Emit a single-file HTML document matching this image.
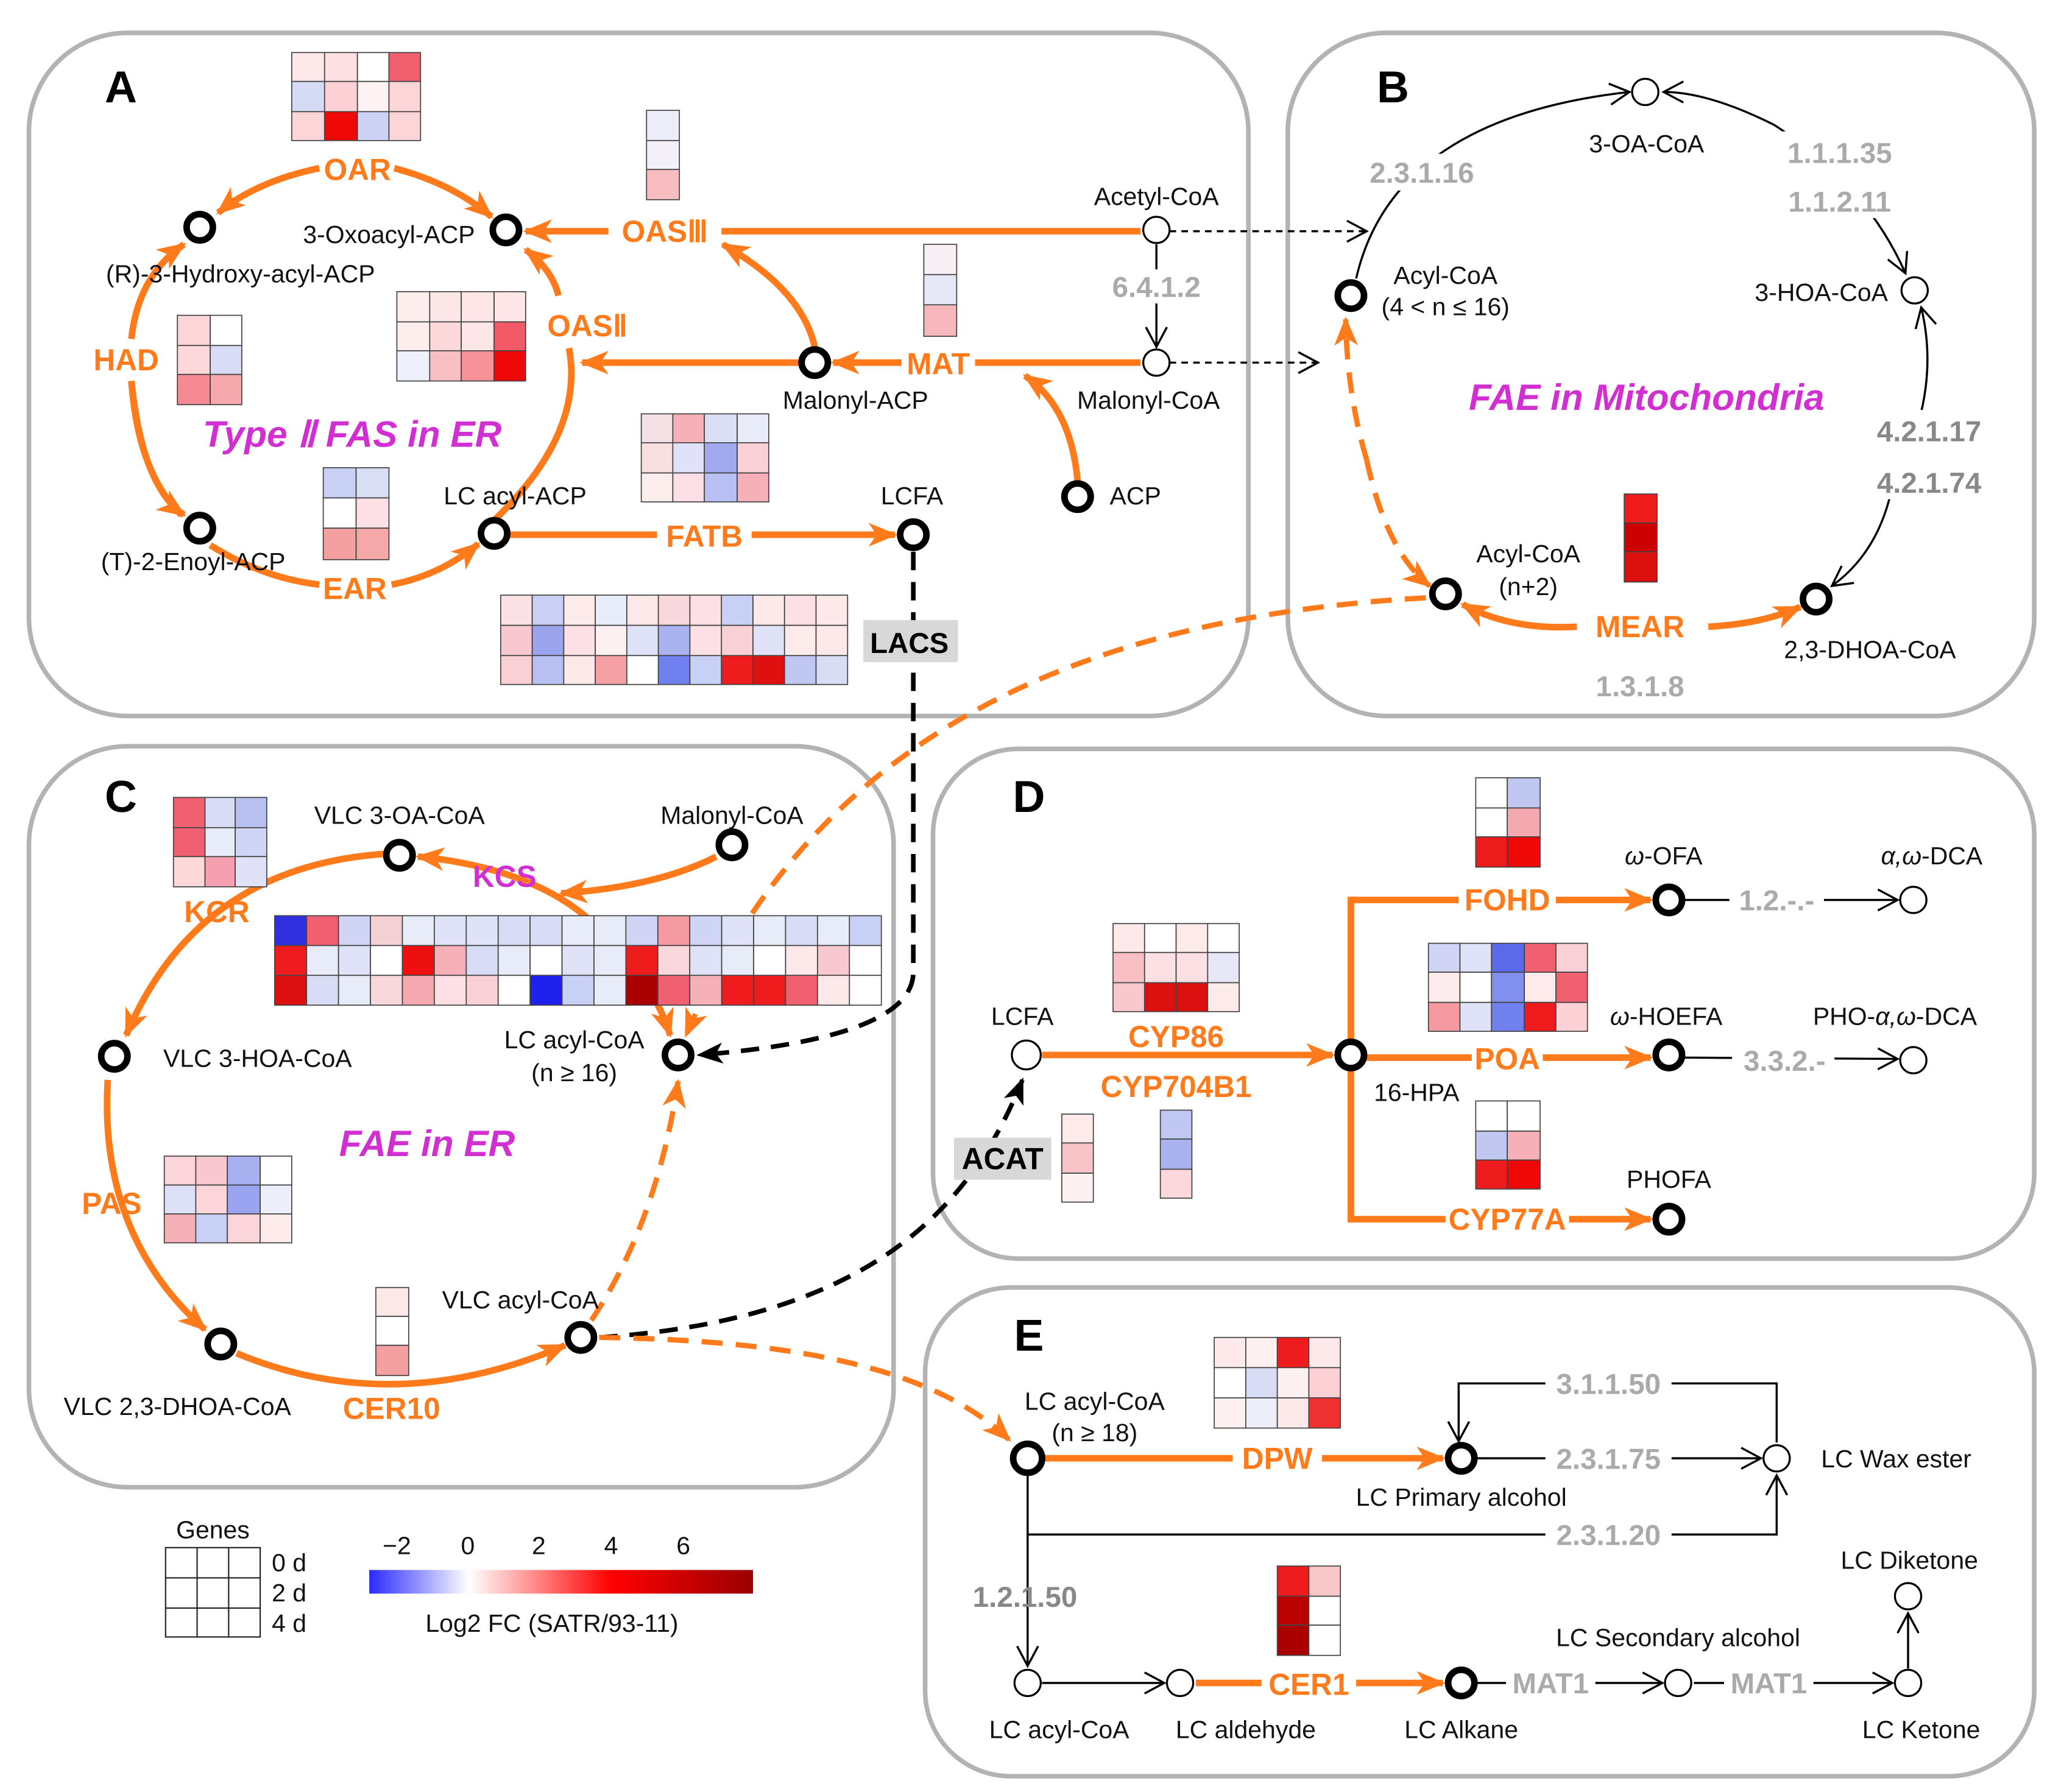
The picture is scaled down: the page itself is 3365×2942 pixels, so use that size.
<!DOCTYPE html>
<html><head><meta charset="utf-8"><style>
html,body{margin:0;padding:0;background:#fff}
svg{display:block}
text{font-family:"Liberation Sans",sans-serif}
.l{font-size:19px;fill:#111;text-anchor:middle}
.o{font-size:23px;fill:#ff7a1a;font-weight:bold;text-anchor:middle}
.g{font-size:22px;fill:#aaa;font-weight:bold;text-anchor:middle}
.g2{font-size:22px;fill:#888;font-weight:bold;text-anchor:middle}
.m{font-size:28px;fill:#d22fd2;font-weight:bold;font-style:italic;text-anchor:middle}
.p{font-size:34px;font-weight:bold;fill:#000;text-anchor:middle}
.ob{stroke:#ff7a1a;stroke-width:5;fill:none}
.od{stroke:#ff7a1a;stroke-width:4;fill:none;stroke-dasharray:16 10}
.kd{stroke:#000;stroke-width:3.5;fill:none;stroke-dasharray:14 9}
.tk{stroke:#000;stroke-width:1.6;fill:none}
.n{fill:#fff;stroke:#000;stroke-width:5}
.e{fill:#fff;stroke:#000;stroke-width:1.5}
.hm rect{stroke:#444;stroke-width:0.8}
</style></head><body>
<svg width="3365" height="2942" viewBox="0 0 1560 1364" preserveAspectRatio="none" xmlns="http://www.w3.org/2000/svg">
<defs>
<marker id="ao" markerUnits="userSpaceOnUse" markerWidth="24" markerHeight="20" refX="20" refY="10" orient="auto"><path d="M0,1 L22,10 L0,19 L6,10z" fill="#ff7a1a"/></marker>
<marker id="ak" markerUnits="userSpaceOnUse" markerWidth="22" markerHeight="18" refX="18" refY="9" orient="auto"><path d="M0,1 L20,9 L0,17 L5,9z" fill="#000"/></marker>
<marker id="at" markerUnits="userSpaceOnUse" markerWidth="20" markerHeight="20" refX="17" refY="10" orient="auto"><path d="M2,2 L17,10 L2,18" fill="none" stroke="#000" stroke-width="1.6"/></marker>
<linearGradient id="cb" x1="0" x2="1"><stop offset="0" stop-color="#2a2aff"/><stop offset="0.26" stop-color="#fff"/><stop offset="0.63" stop-color="#f00"/><stop offset="1" stop-color="#990000"/></linearGradient>
</defs>
<g fill="none" stroke="#b3b3b3" stroke-width="3.5">
<rect x="22" y="25" width="928" height="520" rx="75"/>
<rect x="980" y="25" width="568" height="520" rx="75"/>
<rect x="22" y="568" width="658" height="564" rx="75"/>
<rect x="710" y="570" width="838" height="388" rx="65"/>
<rect x="704" y="980" width="844" height="372" rx="65"/>
</g>
<text class="p" x="92" y="78">A</text><text class="p" x="1060" y="78">B</text><text class="p" x="92" y="618">C</text><text class="p" x="783" y="618">D</text><text class="p" x="783" y="1028">E</text>

<!-- Panel A connectors -->
<path class="ob" d="M243,128 Q195,138 166,162" marker-end="url(#ao)"/>
<path class="ob" d="M300,128 Q345,140 374,165" marker-end="url(#ao)"/>
<path class="ob" d="M100,258 Q105,210 140,186" marker-end="url(#ao)"/>
<path class="ob" d="M100,290 Q105,360 138,392"/>
<path class="ob" d="M100,290 Q108,370 140,392" marker-end="url(#ao)"/>
<path class="ob" d="M160,415 Q200,440 243,445"/>
<path class="ob" d="M298,445 Q335,438 364,414" marker-end="url(#ao)"/>
<path class="ob" d="M376,396 Q445,330 433,265"/>
<path class="ob" d="M425,225 Q420,205 400,190" marker-end="url(#ao)"/>
<path class="ob" d="M868,176 L400,176" marker-end="url(#ao)"/>
<path class="ob" d="M868,276 L634,276" marker-end="url(#ao)"/>
<path class="ob" d="M608,276 L443,276" marker-end="url(#ao)"/>
<path class="ob" d="M620,264 Q610,220 550,186" marker-end="url(#ao)"/>
<path class="ob" d="M820,366 Q815,310 780,286" marker-end="url(#ao)"/>
<path class="ob" d="M388,407 L681,407" marker-end="url(#ao)"/>
<rect x="463" y="162" width="86" height="28" fill="#fff"/>
<text class="o" x="506" y="184">OASⅢ</text>
<rect x="686" y="262" width="56" height="28" fill="#fff"/>
<text class="o" x="714" y="285">MAT</text>
<rect x="500" y="395" width="72" height="26" fill="#fff"/>
<text class="o" x="536" y="416">FATB</text>
<text class="o" x="272" y="137">OAR</text>
<text class="o" x="96" y="282">HAD</text>
<text class="o" x="270" y="456">EAR</text>
<text class="o" x="447" y="256">OASⅡ</text>
<text class="m" x="268" y="340">Type Ⅱ FAS in ER</text>
<line class="tk" x1="890" y1="176" x2="1040" y2="176" stroke-dasharray="5 4" marker-end="url(#at)"/>
<line class="tk" x1="890" y1="276" x2="1003" y2="276" stroke-dasharray="5 4" marker-end="url(#at)"/>
<line class="tk" x1="880" y1="186" x2="880" y2="264" marker-end="url(#at)"/>
<rect x="840" y="205" width="80" height="26" fill="#fff"/>
<text class="g" x="880" y="226">6.4.1.2</text>
<path class="kd" d="M695,420 L695,740 Q695,790 532,803" marker-end="url(#ak)"/>
<rect x="657" y="472" width="72" height="32" fill="#d8d8d8"/>
<text x="692" y="497" style="font-size:22px;font-weight:bold;text-anchor:middle">LACS</text>
<circle class="n" cx="152" cy="173" r="10"/><circle class="n" cx="385" cy="175" r="10"/>
<circle class="n" cx="152" cy="402" r="10"/><circle class="n" cx="376" cy="406" r="10"/>
<circle class="n" cx="620" cy="276" r="10"/><circle class="n" cx="820" cy="378" r="10"/>
<circle class="n" cx="695" cy="407" r="10"/>
<circle class="e" cx="880" cy="175" r="10"/><circle class="e" cx="880" cy="276" r="10"/>
<text class="l" x="296" y="185">3-Oxoacyl-ACP</text>
<text class="l" x="183" y="215">(R)-3-Hydroxy-acyl-ACP</text>
<text class="l" x="147" y="434">(T)-2-Enoyl-ACP</text>
<text class="l" x="392" y="384">LC acyl-ACP</text>
<text class="l" x="694" y="384">LCFA</text>
<text class="l" x="880" y="156">Acetyl-CoA</text>
<text class="l" x="651" y="311">Malonyl-ACP</text>
<text class="l" x="874" y="311">Malonyl-CoA</text>
<text class="l" x="864" y="384">ACP</text>

<!-- Panel A heatmaps -->
<g class="hm">
<rect x="222" y="40" width="25" height="22" fill="#fde8ea"/><rect x="247" y="40" width="25" height="22" fill="#fce0e3"/><rect x="272" y="40" width="24" height="22" fill="#fff"/><rect x="296" y="40" width="24" height="22" fill="#f26070"/>
<rect x="222" y="62" width="25" height="23" fill="#d5dbf5"/><rect x="247" y="62" width="25" height="23" fill="#fcd0d5"/><rect x="272" y="62" width="24" height="23" fill="#fff2f2"/><rect x="296" y="62" width="24" height="23" fill="#fcd5d8"/>
<rect x="222" y="85" width="25" height="22" fill="#fcd5d8"/><rect x="247" y="85" width="25" height="22" fill="#ee0808"/><rect x="272" y="85" width="24" height="22" fill="#cdd3f5"/><rect x="296" y="85" width="24" height="22" fill="#fcd5d8"/>
<rect x="492" y="84" width="25" height="23" fill="#ecedf9"/><rect x="492" y="107" width="25" height="22" fill="#f4f0f8"/><rect x="492" y="129" width="25" height="23" fill="#f7bcc0"/>
<rect x="135" y="240" width="25" height="23" fill="#fcd5d8"/><rect x="160" y="240" width="24" height="23" fill="#fff"/>
<rect x="135" y="263" width="25" height="22" fill="#fcd8da"/><rect x="160" y="263" width="24" height="22" fill="#d8dcf7"/>
<rect x="135" y="285" width="25" height="23" fill="#f58a92"/><rect x="160" y="285" width="24" height="23" fill="#f7a8ac"/>
<rect x="302" y="222" width="25" height="23" fill="#fdeeee"/><rect x="327" y="222" width="24" height="23" fill="#fde6e8"/><rect x="351" y="222" width="25" height="23" fill="#fde6e8"/><rect x="376" y="222" width="24" height="23" fill="#fde6e8"/>
<rect x="302" y="245" width="25" height="22" fill="#fdeeee"/><rect x="327" y="245" width="24" height="22" fill="#fcd8da"/><rect x="351" y="245" width="25" height="22" fill="#fde6e8"/><rect x="376" y="245" width="24" height="22" fill="#f35a68"/>
<rect x="302" y="267" width="25" height="23" fill="#eef0fb"/><rect x="327" y="267" width="24" height="23" fill="#f9c0c4"/><rect x="351" y="267" width="25" height="23" fill="#f69298"/><rect x="376" y="267" width="24" height="23" fill="#ee0808"/>
<rect x="703" y="186" width="25" height="23" fill="#f8f0f5"/><rect x="703" y="209" width="25" height="23" fill="#e6e8f7"/><rect x="703" y="232" width="25" height="24" fill="#f6b8bc"/>
<rect x="488" y="315" width="24" height="22" fill="#f5e0e5"/><rect x="512" y="315" width="24" height="22" fill="#f5b0b8"/><rect x="536" y="315" width="25" height="22" fill="#dadff5"/><rect x="561" y="315" width="24" height="22" fill="#e8ebf8"/>
<rect x="488" y="337" width="24" height="23" fill="#f8dfe0"/><rect x="512" y="337" width="24" height="23" fill="#e0e3f7"/><rect x="536" y="337" width="25" height="23" fill="#a0a8ee"/><rect x="561" y="337" width="24" height="23" fill="#f8d0d5"/>
<rect x="488" y="360" width="24" height="22" fill="#fdeeee"/><rect x="512" y="360" width="24" height="22" fill="#fce0e5"/><rect x="536" y="360" width="25" height="22" fill="#b8bff2"/><rect x="561" y="360" width="24" height="22" fill="#f5b0b8"/>
<rect x="246" y="356" width="25" height="23" fill="#c8d0f5"/><rect x="271" y="356" width="25" height="23" fill="#d8dff5"/>
<rect x="246" y="379" width="25" height="23" fill="#fff"/><rect x="271" y="379" width="25" height="23" fill="#fce0e5"/>
<rect x="246" y="402" width="25" height="24" fill="#f5a0a0"/><rect x="271" y="402" width="25" height="24" fill="#f5a8a8"/>
</g>
<g class="hm">
<rect x="381" y="453" width="24" height="23" fill="#fbe0e5"/><rect x="405" y="453" width="24" height="23" fill="#c8d0f5"/><rect x="429" y="453" width="24" height="23" fill="#fdeaea"/><rect x="453" y="453" width="24" height="23" fill="#e8ebf8"/><rect x="477" y="453" width="24" height="23" fill="#fde8ea"/><rect x="501" y="453" width="24" height="23" fill="#f8d8dc"/><rect x="525" y="453" width="24" height="23" fill="#fce0e5"/><rect x="549" y="453" width="24" height="23" fill="#c8d0f5"/><rect x="573" y="453" width="24" height="23" fill="#fde8ea"/><rect x="597" y="453" width="24" height="23" fill="#fce0e5"/><rect x="621" y="453" width="24" height="23" fill="#fde8ea"/>
<rect x="381" y="476" width="24" height="23" fill="#f8c8d0"/><rect x="405" y="476" width="24" height="23" fill="#9aa5ee"/><rect x="429" y="476" width="24" height="23" fill="#fde0e5"/><rect x="453" y="476" width="24" height="23" fill="#fdf0f0"/><rect x="477" y="476" width="24" height="23" fill="#e0e3f7"/><rect x="501" y="476" width="24" height="23" fill="#aab3f0"/><rect x="525" y="476" width="24" height="23" fill="#fce0e5"/><rect x="549" y="476" width="24" height="23" fill="#f8d0d5"/><rect x="573" y="476" width="24" height="23" fill="#e0e3f7"/><rect x="597" y="476" width="24" height="23" fill="#fdeaea"/><rect x="621" y="476" width="24" height="23" fill="#fde8ea"/>
<rect x="381" y="499" width="24" height="22" fill="#fbd0d5"/><rect x="405" y="499" width="24" height="22" fill="#b8c0f2"/><rect x="429" y="499" width="24" height="22" fill="#fde8ea"/><rect x="453" y="499" width="24" height="22" fill="#f5a0a5"/><rect x="477" y="499" width="24" height="22" fill="#fff"/><rect x="501" y="499" width="24" height="22" fill="#7080ee"/><rect x="525" y="499" width="24" height="22" fill="#c8d0f5"/><rect x="549" y="499" width="24" height="22" fill="#ee1c1c"/><rect x="573" y="499" width="24" height="22" fill="#e01010"/><rect x="597" y="499" width="24" height="22" fill="#c0c8f2"/><rect x="621" y="499" width="24" height="22" fill="#d8dcf5"/>
</g>

<!-- Panel B -->
<path class="tk" d="M1032,212 Q1060,90 1240,70" marker-end="url(#at)"/>
<path class="tk" d="M1350,95 Q1300,70 1266,70" marker-end="url(#at)"/>
<path class="tk" d="M1350,95 Q1420,140 1450,208" marker-end="url(#at)"/>
<path class="tk" d="M1440,370 Q1430,420 1394,446" marker-end="url(#at)"/>
<path class="tk" d="M1440,370 Q1478,300 1462,234" marker-end="url(#at)"/>
<path class="ob" d="M1200,477 Q1150,480 1113,460" marker-end="url(#ao)"/>
<path class="ob" d="M1300,477 Q1340,475 1370,462" marker-end="url(#ao)"/>
<path class="od" d="M1040,350 Q1025,300 1024,243" marker-end="url(#ao)"/>
<path class="od" d="M1040,350 Q1055,420 1088,446" marker-end="url(#ao)"/>
<rect x="1030" y="117" width="104" height="28" fill="#fff"/>
<text class="g" x="1082" y="139">2.3.1.16</text>
<rect x="1350" y="100" width="100" height="66" fill="#fff"/>
<text class="g" x="1400" y="124">1.1.1.35</text><text class="g" x="1400" y="161">1.1.2.11</text>
<rect x="1418" y="312" width="100" height="68" fill="#fff"/>
<text class="g2" x="1468" y="336">4.2.1.17</text><text class="g2" x="1468" y="375">4.2.1.74</text>
<text class="g" x="1248" y="530">1.3.1.8</text>
<text class="o" x="1248" y="485">MEAR</text>
<text class="m" x="1253" y="312">FAE in Mitochondria</text>
<g class="hm"><rect x="1236" y="376" width="25" height="22" fill="#ee1c1c"/><rect x="1236" y="398" width="25" height="22" fill="#cc0000"/><rect x="1236" y="420" width="25" height="23" fill="#dd1010"/></g>
<circle class="e" cx="1252" cy="70" r="10"/><circle class="e" cx="1457" cy="221" r="10"/>
<circle class="n" cx="1028" cy="225" r="10"/><circle class="n" cx="1382" cy="456" r="10"/><circle class="n" cx="1100" cy="452" r="10"/>
<text class="l" x="1253" y="116">3-OA-CoA</text>
<text class="l" x="1100" y="216">Acyl-CoA</text><text class="l" x="1100" y="240">(4 &lt; n ≤ 16)</text>
<text class="l" x="1386" y="229">3-HOA-CoA</text>
<text class="l" x="1423" y="501">2,3-DHOA-CoA</text>
<text class="l" x="1163" y="428">Acyl-CoA</text><text class="l" x="1163" y="453">(n+2)</text>
<path class="od" d="M1085,455 C820,470 620,560 522,788" marker-end="url(#ao)"/>

<!-- Panel C -->
<path class="ob" d="M545,652 Q500,675 427,680" marker-end="url(#ao)"/>
<path class="ob" d="M445,697 Q400,660 318,652" marker-end="url(#ao)"/>
<path class="ob" d="M445,697 Q495,740 510,788" marker-end="url(#ao)"/>
<path class="ob" d="M292,650 Q150,660 96,788" marker-end="url(#ao)"/>
<path class="ob" d="M82,822 Q75,940 156,1012" marker-end="url(#ao)"/>
<path class="ob" d="M180,1030 Q300,1080 430,1024" marker-end="url(#ao)"/>
<path class="od" d="M450,1005 Q500,930 516,823" marker-end="url(#ao)"/>
<text class="o" x="165" y="702">KCR</text>
<text class="o" x="85" y="924">PAS</text>
<rect x="255" y="1058" width="86" height="28" fill="#fff"/>
<text class="o" x="298" y="1080">CER10</text>
<text x="384" y="675" style="font-size:23px;font-weight:bold;fill:#d22fd2;text-anchor:middle">KCS</text>
<text class="m" x="325" y="880">FAE in ER</text>
<g class="hm">
<rect x="132" y="607" width="24" height="23" fill="#f06070"/><rect x="156" y="607" width="23" height="23" fill="#d8dcf5"/><rect x="179" y="607" width="24" height="23" fill="#b8c0f2"/>
<rect x="132" y="630" width="24" height="22" fill="#f06070"/><rect x="156" y="630" width="23" height="22" fill="#e8ebf8"/><rect x="179" y="630" width="24" height="22" fill="#d0d5f5"/>
<rect x="132" y="652" width="24" height="23" fill="#fcd8d8"/><rect x="156" y="652" width="23" height="23" fill="#f5a0b0"/><rect x="179" y="652" width="24" height="23" fill="#e0e3f7"/>
<rect x="125" y="880" width="24" height="22" fill="#fcd5da"/><rect x="149" y="880" width="24" height="22" fill="#f8c8d0"/><rect x="173" y="880" width="25" height="22" fill="#a8b0f0"/><rect x="198" y="880" width="24" height="22" fill="#fff"/>
<rect x="125" y="902" width="24" height="22" fill="#dde0f7"/><rect x="149" y="902" width="24" height="22" fill="#fcd5da"/><rect x="173" y="902" width="25" height="22" fill="#9aa3ee"/><rect x="198" y="902" width="24" height="22" fill="#eceef9"/>
<rect x="125" y="924" width="24" height="22" fill="#f6b0b8"/><rect x="149" y="924" width="24" height="22" fill="#c8d0f5"/><rect x="173" y="924" width="25" height="22" fill="#fcd5da"/><rect x="198" y="924" width="24" height="22" fill="#fdeaea"/>
<rect x="286" y="980" width="25" height="22" fill="#fde8e8"/><rect x="286" y="1002" width="25" height="22" fill="#fff"/><rect x="286" y="1024" width="25" height="23" fill="#f5a0a0"/>
</g>
<g class="hm" transform="translate(209,697)">
<rect x="0" y="0" width="24.3" height="22.7" fill="#3030e0"/><rect x="24.3" y="0" width="24.3" height="22.7" fill="#f06070"/><rect x="48.6" y="0" width="24.3" height="22.7" fill="#d0d5f5"/><rect x="72.9" y="0" width="24.3" height="22.7" fill="#f5d0d5"/><rect x="97.2" y="0" width="24.3" height="22.7" fill="#e8ebf8"/><rect x="121.5" y="0" width="24.3" height="22.7" fill="#e0e3f7"/><rect x="145.8" y="0" width="24.3" height="22.7" fill="#e0e3f7"/><rect x="170.1" y="0" width="24.3" height="22.7" fill="#d8dcf5"/><rect x="194.4" y="0" width="24.3" height="22.7" fill="#d8dcf5"/><rect x="218.7" y="0" width="24.3" height="22.7" fill="#e8ebf8"/><rect x="243" y="0" width="24.3" height="22.7" fill="#e8ebf8"/><rect x="267.3" y="0" width="24.3" height="22.7" fill="#d0d5f5"/><rect x="291.6" y="0" width="24.3" height="22.7" fill="#f59aa0"/><rect x="315.9" y="0" width="24.3" height="22.7" fill="#d0d5f5"/><rect x="340.2" y="0" width="24.3" height="22.7" fill="#e0e3f7"/><rect x="364.5" y="0" width="24.3" height="22.7" fill="#e8ebf8"/><rect x="388.8" y="0" width="24.3" height="22.7" fill="#d8dcf5"/><rect x="413.1" y="0" width="24.3" height="22.7" fill="#e8ebf8"/><rect x="437.4" y="0" width="24.3" height="22.7" fill="#c8d0f5"/>
<rect x="0" y="22.7" width="24.3" height="22.7" fill="#ee1c1c"/><rect x="24.3" y="22.7" width="24.3" height="22.7" fill="#e8ebf8"/><rect x="48.6" y="22.7" width="24.3" height="22.7" fill="#e0e3f7"/><rect x="72.9" y="22.7" width="24.3" height="22.7" fill="#fff"/><rect x="97.2" y="22.7" width="24.3" height="22.7" fill="#ee1010"/><rect x="121.5" y="22.7" width="24.3" height="22.7" fill="#f5b0b8"/><rect x="145.8" y="22.7" width="24.3" height="22.7" fill="#d8dcf5"/><rect x="170.1" y="22.7" width="24.3" height="22.7" fill="#e8ebf8"/><rect x="194.4" y="22.7" width="24.3" height="22.7" fill="#fff"/><rect x="218.7" y="22.7" width="24.3" height="22.7" fill="#e0e3f7"/><rect x="243" y="22.7" width="24.3" height="22.7" fill="#e8ebf8"/><rect x="267.3" y="22.7" width="24.3" height="22.7" fill="#ee1c1c"/><rect x="291.6" y="22.7" width="24.3" height="22.7" fill="#f8d8dc"/><rect x="315.9" y="22.7" width="24.3" height="22.7" fill="#e0e3f7"/><rect x="340.2" y="22.7" width="24.3" height="22.7" fill="#e8ebf8"/><rect x="364.5" y="22.7" width="24.3" height="22.7" fill="#fff"/><rect x="388.8" y="22.7" width="24.3" height="22.7" fill="#fde8ea"/><rect x="413.1" y="22.7" width="24.3" height="22.7" fill="#f8c8d0"/><rect x="437.4" y="22.7" width="24.3" height="22.7" fill="#fff"/>
<rect x="0" y="45.4" width="24.3" height="22.7" fill="#dd1010"/><rect x="24.3" y="45.4" width="24.3" height="22.7" fill="#d8dcf5"/><rect x="48.6" y="45.4" width="24.3" height="22.7" fill="#e8ebf8"/><rect x="72.9" y="45.4" width="24.3" height="22.7" fill="#f8d8dc"/><rect x="97.2" y="45.4" width="24.3" height="22.7" fill="#f5a8b0"/><rect x="121.5" y="45.4" width="24.3" height="22.7" fill="#fde0e5"/><rect x="145.8" y="45.4" width="24.3" height="22.7" fill="#f8d0d5"/><rect x="170.1" y="45.4" width="24.3" height="22.7" fill="#fff"/><rect x="194.4" y="45.4" width="24.3" height="22.7" fill="#2020ee"/><rect x="218.7" y="45.4" width="24.3" height="22.7" fill="#c8d0f5"/><rect x="243" y="45.4" width="24.3" height="22.7" fill="#e8ebf8"/><rect x="267.3" y="45.4" width="24.3" height="22.7" fill="#aa0000"/><rect x="291.6" y="45.4" width="24.3" height="22.7" fill="#f06070"/><rect x="315.9" y="45.4" width="24.3" height="22.7" fill="#f5b0b8"/><rect x="340.2" y="45.4" width="24.3" height="22.7" fill="#ee1c1c"/><rect x="364.5" y="45.4" width="24.3" height="22.7" fill="#ee1c1c"/><rect x="388.8" y="45.4" width="24.3" height="22.7" fill="#f06070"/><rect x="413.1" y="45.4" width="24.3" height="22.7" fill="#fde8ea"/><rect x="437.4" y="45.4" width="24.3" height="22.7" fill="#fff"/>
</g>
<circle class="n" cx="304" cy="651" r="10"/><circle class="n" cx="557" cy="643" r="10"/><circle class="n" cx="87" cy="804" r="10"/>
<circle class="n" cx="516" cy="803" r="10"/><circle class="n" cx="168" cy="1023" r="10"/><circle class="n" cx="442" cy="1018" r="10"/>
<text class="l" x="304" y="627">VLC 3-OA-CoA</text>
<text class="l" x="557" y="627">Malonyl-CoA</text>
<text class="l" x="196" y="812">VLC 3-HOA-CoA</text>
<text class="l" x="437" y="798">LC acyl-CoA</text><text class="l" x="437" y="823">(n ≥ 16)</text>
<text class="l" x="135" y="1077">VLC 2,3-DHOA-CoA</text>
<text class="l" x="396" y="996">VLC acyl-CoA</text>
<path class="kd" d="M456,1018 C650,1005 735,930 778,822" marker-end="url(#ak)"/>
<path class="od" d="M456,1018 C600,1020 710,1040 768,1096" marker-end="url(#ao)"/>

<!-- Panel D -->
<path class="ob" d="M793,803 L1014,803" marker-end="url(#ao)"/>
<path class="ob" d="M1028,793 L1028,685 L1256,685" marker-end="url(#ao)"/>
<path class="ob" d="M1040,805 L1256,805" marker-end="url(#ao)"/>
<path class="ob" d="M1028,813 L1028,928 L1256,928" marker-end="url(#ao)"/>
<rect x="1110" y="672" width="74" height="26" fill="#fff"/><text class="o" x="1147" y="693">FOHD</text>
<rect x="1120" y="792" width="54" height="26" fill="#fff"/><text class="o" x="1147" y="814">POA</text>
<rect x="1100" y="915" width="94" height="26" fill="#fff"/><text class="o" x="1147" y="936">CYP77A</text>
<text class="o" x="895" y="797">CYP86</text><text class="o" x="895" y="835">CYP704B1</text>
<line class="tk" x1="1282" y1="685" x2="1444" y2="685" marker-end="url(#at)"/>
<line class="tk" x1="1282" y1="805" x2="1444" y2="806" marker-end="url(#at)"/>
<rect x="1316" y="673" width="72" height="24" fill="#fff"/><text class="g" x="1352" y="693">1.2.-.-</text>
<rect x="1318" y="795" width="78" height="24" fill="#fff"/><text class="g" x="1358" y="815">3.3.2.-</text>
<rect x="726" y="866" width="74" height="32" fill="#d8d8d8"/>
<text x="763" y="890" style="font-size:23px;font-weight:bold;text-anchor:middle">ACAT</text>
<g class="hm">
<rect x="847" y="703" width="24" height="22" fill="#fde8ea"/><rect x="871" y="703" width="24" height="22" fill="#fff"/><rect x="895" y="703" width="24" height="22" fill="#fdeaea"/><rect x="919" y="703" width="24" height="22" fill="#fff"/>
<rect x="847" y="725" width="24" height="23" fill="#f8c0c4"/><rect x="871" y="725" width="24" height="23" fill="#fde0e3"/><rect x="895" y="725" width="24" height="23" fill="#fde0e3"/><rect x="919" y="725" width="24" height="23" fill="#e6e8f7"/>
<rect x="847" y="748" width="24" height="22" fill="#f8c8cc"/><rect x="871" y="748" width="24" height="22" fill="#dd1010"/><rect x="895" y="748" width="24" height="22" fill="#dd1010"/><rect x="919" y="748" width="24" height="22" fill="#fdeaea"/>
<rect x="808" y="848" width="24" height="22" fill="#fdeaea"/><rect x="808" y="870" width="24" height="23" fill="#f8c4c8"/><rect x="808" y="893" width="24" height="22" fill="#fdf0f0"/>
<rect x="883" y="845" width="24" height="22" fill="#c0c8f2"/><rect x="883" y="867" width="24" height="23" fill="#aab3f0"/><rect x="883" y="890" width="24" height="22" fill="#fcd8dc"/>
<rect x="1123" y="592" width="24" height="23" fill="#fff"/><rect x="1147" y="592" width="25" height="23" fill="#c0c8f2"/>
<rect x="1123" y="615" width="24" height="22" fill="#fff"/><rect x="1147" y="615" width="25" height="22" fill="#f6a8b0"/>
<rect x="1123" y="637" width="24" height="23" fill="#ee1c1c"/><rect x="1147" y="637" width="25" height="23" fill="#ee0808"/>
<rect x="1087" y="718" width="24" height="22" fill="#d0d5f5"/><rect x="1111" y="718" width="24" height="22" fill="#e0e3f7"/><rect x="1135" y="718" width="25" height="22" fill="#5a6ae8"/><rect x="1160" y="718" width="24" height="22" fill="#f06070"/><rect x="1184" y="718" width="24" height="22" fill="#f8d0d5"/>
<rect x="1087" y="740" width="24" height="23" fill="#fdeaea"/><rect x="1111" y="740" width="24" height="23" fill="#fff"/><rect x="1135" y="740" width="25" height="23" fill="#8090ec"/><rect x="1160" y="740" width="24" height="23" fill="#fdeaea"/><rect x="1184" y="740" width="24" height="23" fill="#f06070"/>
<rect x="1087" y="763" width="24" height="22" fill="#f59aa0"/><rect x="1111" y="763" width="24" height="22" fill="#e0e3f7"/><rect x="1135" y="763" width="25" height="22" fill="#7080ee"/><rect x="1160" y="763" width="24" height="22" fill="#ee1c1c"/><rect x="1184" y="763" width="24" height="22" fill="#fcd0d5"/>
<rect x="1123" y="838" width="24" height="23" fill="#fff"/><rect x="1147" y="838" width="25" height="23" fill="#fff"/>
<rect x="1123" y="861" width="24" height="22" fill="#c0c8f2"/><rect x="1147" y="861" width="25" height="22" fill="#f6b0b8"/>
<rect x="1123" y="883" width="24" height="22" fill="#ee1c1c"/><rect x="1147" y="883" width="25" height="22" fill="#ee0808"/>
</g>
<circle class="e" cx="781" cy="803" r="11"/><circle class="n" cx="1028" cy="803" r="10"/>
<circle class="n" cx="1270" cy="685" r="10"/><circle class="e" cx="1456" cy="685" r="10"/>
<circle class="n" cx="1270" cy="803" r="10"/><circle class="e" cx="1456" cy="807" r="10"/>
<circle class="n" cx="1270" cy="928" r="10"/>
<text class="l" x="778" y="780">LCFA</text>
<text class="l" x="1078" y="838">16-HPA</text>
<text class="l" x="1266" y="658"><tspan font-style="italic">ω</tspan>-OFA</text>
<text class="l" x="1470" y="658"><tspan font-style="italic">α,ω</tspan>-DCA</text>
<text class="l" x="1268" y="780"><tspan font-style="italic">ω</tspan>-HOEFA</text>
<text class="l" x="1442" y="780">PHO-<tspan font-style="italic">α,ω</tspan>-DCA</text>
<text class="l" x="1270" y="904">PHOFA</text>

<!-- Panel E -->
<path class="ob" d="M794,1110 L1098,1110" marker-end="url(#ao)"/>
<path class="ob" d="M910,1281 L1098,1281" marker-end="url(#ao)"/>
<rect x="938" y="1097" width="68" height="26" fill="#fff"/><text class="o" x="972" y="1118">DPW</text>
<rect x="960" y="1268" width="72" height="26" fill="#fff"/><text class="o" x="996" y="1290">CER1</text>
<path class="tk" d="M1352,1098 L1352,1053 L1110,1053 L1110,1097" marker-end="url(#at)"/>
<line class="tk" x1="1124" y1="1110" x2="1340" y2="1110" marker-end="url(#at)"/>
<path class="tk" d="M782,1122 L782,1168 L1352,1168 L1352,1123" marker-end="url(#at)"/>
<line class="tk" x1="782" y1="1168" x2="782" y2="1268" marker-end="url(#at)"/>
<line class="tk" x1="793" y1="1281" x2="886" y2="1281" marker-end="url(#at)"/>
<line class="tk" x1="1124" y1="1281" x2="1265" y2="1281" marker-end="url(#at)"/>
<line class="tk" x1="1289" y1="1281" x2="1440" y2="1281" marker-end="url(#at)"/>
<line class="tk" x1="1452" y1="1270" x2="1452" y2="1228" marker-end="url(#at)"/>
<rect x="1176" y="1041" width="96" height="24" fill="#fff"/><text class="g" x="1224" y="1061">3.1.1.50</text>
<rect x="1176" y="1098" width="96" height="24" fill="#fff"/><text class="g" x="1224" y="1118">2.3.1.75</text>
<rect x="1176" y="1156" width="96" height="24" fill="#fff"/><text class="g" x="1224" y="1176">2.3.1.20</text>
<rect x="1146" y="1269" width="68" height="24" fill="#fff"/><text class="g" x="1180" y="1289">MAT1</text>
<rect x="1312" y="1269" width="68" height="24" fill="#fff"/><text class="g" x="1346" y="1289">MAT1</text>
<text class="g2" x="780" y="1223">1.2.1.50</text>
<g class="hm">
<rect x="924" y="1018" width="24" height="23" fill="#fde8ea"/><rect x="948" y="1018" width="24" height="23" fill="#fdf0f0"/><rect x="972" y="1018" width="24" height="23" fill="#ee1c1c"/><rect x="996" y="1018" width="24" height="23" fill="#fde8ea"/>
<rect x="924" y="1041" width="24" height="23" fill="#fff"/><rect x="948" y="1041" width="24" height="23" fill="#d8dcf5"/><rect x="972" y="1041" width="24" height="23" fill="#fdf0f0"/><rect x="996" y="1041" width="24" height="23" fill="#fcd0d5"/>
<rect x="924" y="1064" width="24" height="23" fill="#fdf0f0"/><rect x="948" y="1064" width="24" height="23" fill="#eceef9"/><rect x="972" y="1064" width="24" height="23" fill="#fde8ea"/><rect x="996" y="1064" width="24" height="23" fill="#ee3030"/>
<rect x="972" y="1192" width="24" height="23" fill="#ee1c1c"/><rect x="996" y="1192" width="24" height="23" fill="#f8c8c8"/>
<rect x="972" y="1215" width="24" height="22" fill="#bb0000"/><rect x="996" y="1215" width="24" height="22" fill="#fff"/>
<rect x="972" y="1237" width="24" height="23" fill="#aa0000"/><rect x="996" y="1237" width="24" height="23" fill="#fff"/>
</g>
<circle class="n" cx="782" cy="1110" r="11"/><circle class="n" cx="1112" cy="1110" r="10"/><circle class="e" cx="1352" cy="1110" r="10"/>
<circle class="e" cx="782" cy="1281" r="10"/><circle class="e" cx="898" cy="1281" r="10"/><circle class="n" cx="1112" cy="1281" r="10"/>
<circle class="e" cx="1277" cy="1281" r="10"/><circle class="e" cx="1452" cy="1281" r="10"/><circle class="e" cx="1452" cy="1215" r="10"/>
<text class="l" x="833" y="1073">LC acyl-CoA</text><text class="l" x="833" y="1097">(n ≥ 18)</text>
<text class="l" x="1112" y="1146">LC Primary alcohol</text>
<text class="l" x="1443" y="1117">LC Wax ester</text>
<text class="l" x="806" y="1323">LC acyl-CoA</text>
<text class="l" x="948" y="1323">LC aldehyde</text>
<text class="l" x="1112" y="1323">LC Alkane</text>
<text class="l" x="1277" y="1253">LC Secondary alcohol</text>
<text class="l" x="1462" y="1323">LC Ketone</text>
<text class="l" x="1453" y="1194">LC Diketone</text>

<!-- Legend -->
<text class="l" x="162" y="1171">Genes</text>
<g stroke="#222" stroke-width="1" fill="none">
<rect x="126" y="1178" width="72" height="68"/>
<line x1="150" y1="1178" x2="150" y2="1246"/><line x1="174" y1="1178" x2="174" y2="1246"/>
<line x1="126" y1="1201" x2="198" y2="1201"/><line x1="126" y1="1224" x2="198" y2="1224"/>
</g>
<text class="l" x="220" y="1196">0 d</text><text class="l" x="220" y="1219">2 d</text><text class="l" x="220" y="1242">4 d</text>
<rect x="281" y="1195" width="292" height="18" fill="url(#cb)"/>
<text class="l" x="302" y="1183">−2</text><text class="l" x="356" y="1183">0</text><text class="l" x="410" y="1183">2</text><text class="l" x="465" y="1183">4</text><text class="l" x="520" y="1183">6</text>
<text class="l" x="420" y="1242">Log2 FC (SATR/93-11)</text>
</svg>
</body></html>
